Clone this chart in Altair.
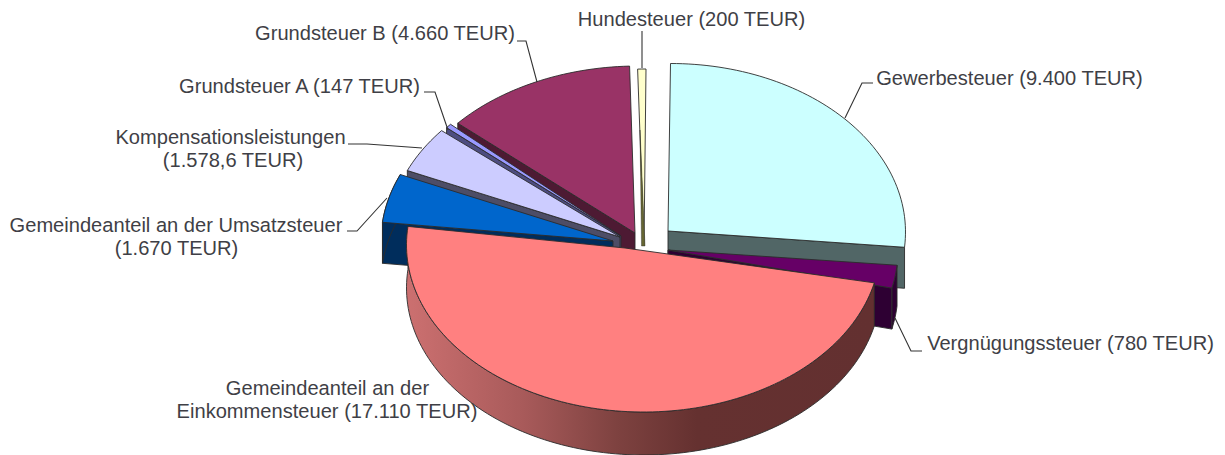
import math
import altair as alt
import pandas as pd

categories = ["Gewerbesteuer", "Vergnügungssteuer", "Gemeindeanteil an der Einkommensteuer",
              "Gemeindeanteil an der Umsatzsteuer", "Kompensationsleistungen",
              "Grundsteuer A", "Grundsteuer B", "Hundesteuer"]
values = [9400, 780, 17110, 1670, 1578.6, 147, 4660, 200]
top_colors = ["#CCFFFF", "#660066", "#FF8080", "#0066CC", "#CCCCFF", "#9999FF", "#993366", "#FFFFCC"]
wall_colors = ["#516666", "#2E0033", "#653030", "#002D5C", "#4D4D66", "#4D4D80", "#4D1A33", "#666633"]
labels = [
    ["Hundesteuer (200 TEUR)"],
    ["Grundsteuer B (4.660 TEUR)"],
    ["Grundsteuer A (147 TEUR)"],
    ["Kompensationsleistungen", "(1.578,6 TEUR)"],
    ["Gemeindeanteil an der Umsatzsteuer", "(1.670 TEUR)"],
    ["Gemeindeanteil an der", "Einkommensteuer (17.110 TEUR)"],
    ["Vergnügungssteuer (780 TEUR)"],
    ["Gewerbesteuer (9.400 TEUR)"],
]

# layout (page pixels): rim-ellipse centre, radii, apex for each exploded slice
geom = {
    0: dict(c=(670.5, 232), r=(235, 168.5), apex=(668, 231)),
    1: dict(c=(661, 250), r=(237, 168), apex=(668, 250)),
    2: dict(c=(643.5, 245), r=(237, 167), apex=(625, 248)),
    3: dict(c=(618, 241), r=(237, 168), apex=(613, 241)),
    4: dict(c=(625, 237), r=(237, 168), apex=(620, 237)),
    5: dict(c=(630, 234), r=(237, 168), apex=(621, 236)),
    6: dict(c=(638, 231), r=(238, 165), apex=(635, 233)),
    7: dict(c=(646, 236), r=(237, 167), apex=(644, 246)),
}
DEPTH = 41
W, H = 1209, 447
xs = alt.Scale(domain=[8, 8 + W], range=[0, W])
ys = alt.Scale(domain=[8 + H, 8], range=[H, 0])

total = sum(values)
bounds = [0.0]
for v in values:
    bounds.append(bounds[-1] + v / total * 360)


def rim(i):
    a0, a1 = bounds[i], bounds[i + 1]
    g = geom[i]
    n = max(2, int((a1 - a0) / 1.5) + 2)
    out = []
    for k in range(n):
        t = math.radians(a0 + (a1 - a0) * k / (n - 1))
        out.append((g["c"][0] + g["r"][0] * math.sin(t), g["c"][1] - g["r"][1] * math.cos(t)))
    return out


def poly(pts, fill, stroke="#2b2b2b", sw=0.9):
    df = pd.DataFrame({"x": [p[0] for p in pts], "y": [p[1] for p in pts], "i": range(len(pts))})
    return alt.Chart(df).mark_line(
        fill=fill, stroke=stroke, strokeWidth=sw, interpolate="linear-closed", clip=True
    ).encode(
        x=alt.X("x:Q", scale=xs, axis=None),
        y=alt.Y("y:Q", scale=ys, axis=None),
        order=alt.Order("i:Q"),
    )


def shift(pts, d=DEPTH):
    return [(x, y + d) for x, y in pts]


def top(i):
    return poly([geom[i]["apex"]] + rim(i), top_colors[i])


def end_wall(i, which):
    """Flat radial wall of a slice; which=0 for the slice's first edge, -1 for the last."""
    p = rim(i)[which]
    a = geom[i]["apex"]
    return poly([p, a, (a[0], a[1] + DEPTH), (p[0], p[1] + DEPTH)], wall_colors[i])


def rim_wall(i, col, d=DEPTH):
    r = rim(i)
    return poly(r + shift(r, d)[::-1], col)


eink_gradient = alt.Gradient(
    gradient="linear", x1=0, x2=1, y1=0, y2=0,
    stops=[
        alt.GradientStop(offset=0, color="#CC7070"),
        alt.GradientStop(offset=0.25, color="#A85A5A"),
        alt.GradientStop(offset=0.45, color="#7E4240"),
        alt.GradientStop(offset=0.62, color="#653130"),
        alt.GradientStop(offset=1, color="#633030"),
    ],
)

layers = []
# back to front
layers += [end_wall(6, 0), top(6)]
layers += [top(7)]
layers += [poly([(640, 130), (645, 246), (641.5, 246)], wall_colors[7], sw=0.4)]
layers += [end_wall(5, 0), top(5)]
layers += [end_wall(4, 0), top(4)]
layers += [end_wall(3, 0), rim_wall(3, wall_colors[3]), top(3)]
layers += [end_wall(0, -1), top(0)]
layers += [rim_wall(1, wall_colors[1]), end_wall(1, -1), top(1)]
layers += [rim_wall(2, eink_gradient, 43), top(2)]

# leader lines
leaders = [
    [(642, 68), (642, 31)],
    [(537, 82), (526, 41), (517, 41)],
    [(448, 130), (435, 92), (424, 92)],
    [(422, 148), (367, 144), (348, 144)],
    [(387, 198), (357, 231), (347, 231)],
    [(895, 318), (911, 351), (922, 351)],
    [(845, 118), (862, 83), (873, 83)],
]
for pts in leaders:
    df = pd.DataFrame({"x": [p[0] for p in pts], "y": [p[1] for p in pts], "i": range(len(pts))})
    layers.append(
        alt.Chart(df).mark_line(stroke="#333333", strokeWidth=1.1).encode(
            x=alt.X("x:Q", scale=xs, axis=None),
            y=alt.Y("y:Q", scale=ys, axis=None),
            order=alt.Order("i:Q"),
        )
    )

# label anchors: centre x and centre y of each text line
anchors = [
    [(691.5, 20)],
    [(385, 34)],
    [(299.5, 87)],
    [(230.5, 138), (233, 161)],
    [(176, 226), (176.5, 249)],
    [(327.5, 389), (327, 412)],
    [(1070.5, 344)],
    [(1009.5, 79)],
]
rows = []
for lab, anc in zip(labels, anchors):
    for t, (x, y) in zip(lab, anc):
        rows.append({"t": t, "x": x, "y": y})
layers.append(
    alt.Chart(pd.DataFrame(rows)).mark_text(
        font="Liberation Sans", fontSize=20.1, color="#3f3f46", align="center", baseline="middle"
    ).encode(
        x=alt.X("x:Q", scale=xs, axis=None),
        y=alt.Y("y:Q", scale=ys, axis=None),
        text="t:N",
    )
)

chart = alt.layer(*layers).properties(width=W, height=H, padding=0).configure_view(stroke=None).resolve_scale(x="shared", y="shared")
chart.save("out.html", embed_options={"renderer": "svg", "actions": False})
